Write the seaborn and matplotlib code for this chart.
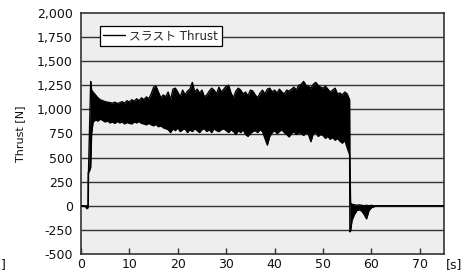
import numpy as np
import pandas as pd
import matplotlib
matplotlib.use("Agg")
import matplotlib.pyplot as plt
import seaborn as sns

# --- Thrust trace: time [s], upper / lower envelope [N] ---
time_s = [0.0, 1.0, 1.2, 1.45, 1.5, 1.55, 1.9, 2.0, 2.2,
          2.5, 3.0, 3.5, 4.0, 4.5, 5.0, 5.5, 6.0, 6.5, 7.0, 7.5, 8.0, 8.5, 9.0, 9.5,
          10.0, 10.5, 11.0, 11.5, 12.0, 12.5, 13.0, 13.5, 14.0, 14.5, 15.0, 15.5,
          16.0, 16.5, 17.0, 17.5, 18.0, 18.5, 19.0, 19.5, 20.0, 20.5, 21.0, 21.5,
          22.0, 22.5, 23.0, 23.5, 24.0, 24.5, 25.0, 25.5, 26.0, 26.5, 27.0, 27.5,
          28.0, 28.5, 29.0, 29.5, 30.0, 30.5, 31.0, 31.5, 32.0, 32.5, 33.0, 33.5,
          34.0, 34.5, 35.0, 35.5, 36.0, 36.5, 37.0, 37.5, 38.0, 38.5, 39.0, 39.5,
          40.0, 40.5, 41.0, 41.5, 42.0, 42.5, 43.0, 43.5, 44.0, 44.5, 45.0, 45.5,
          46.0, 46.5, 47.0, 47.5, 48.0, 48.5, 49.0, 49.5, 50.0, 50.5, 51.0, 51.5,
          52.0, 52.5, 53.0, 53.5, 54.0, 54.5, 55.0, 55.5,
          55.55, 55.7, 56.0, 56.5, 57.0, 57.5, 58.0, 58.5, 59.0, 59.5, 60.0, 60.5,
          61.0, 75.0]

thrust_upper = [0, 0, 0, 0, 350, 350, 1100, 1290, 1200,
                1180, 1150, 1120, 1100, 1090, 1080, 1075, 1070, 1065, 1075, 1060, 1070, 1080, 1065, 1090,
                1075, 1100, 1085, 1110, 1090, 1120, 1100, 1130, 1110, 1160, 1230, 1240,
                1180, 1120, 1150, 1130, 1180, 1100, 1210, 1220, 1180, 1130, 1200, 1150,
                1190, 1210, 1280, 1180, 1210, 1170, 1200, 1130, 1150, 1190, 1220, 1200,
                1160, 1230, 1180, 1210, 1240, 1250, 1170, 1120, 1190, 1220, 1200, 1160,
                1180, 1140, 1200, 1190, 1150, 1120, 1170, 1200, 1160, 1210, 1220, 1180,
                1200, 1170, 1210, 1180, 1160, 1200, 1190, 1210, 1230, 1200, 1250, 1260,
                1290, 1250, 1240, 1220, 1260, 1280, 1250, 1230, 1220, 1240, 1210, 1180,
                1200, 1220, 1160, 1170, 1150, 1180, 1160, 1100,
                530, 30, 15, 10, 5, 10, 5, 0, 5, 0, 5, 0,
                0, 0]

thrust_lower = [0, -10, -30, -20, 0, 340, 380, 400, 750,
                870, 890, 880, 900, 885, 870, 880, 860, 870, 855, 875, 860, 870, 850, 865,
                855, 850, 870, 860, 875, 855, 850, 840, 855, 840, 830, 845,
                820, 830, 810, 800, 790, 760, 800, 780, 810, 770, 790, 800,
                760, 790, 770, 800, 780, 760, 790, 800, 770, 790, 760, 800,
                780, 770, 790, 800, 780, 760, 790, 770, 740, 780, 760, 790,
                740, 720, 750, 770, 780, 760, 790, 770, 700, 630, 720, 760,
                780, 750, 770, 790, 760, 740, 715, 750, 770, 740, 760, 750,
                730, 760, 740, 665, 750, 760, 720, 740, 730, 700, 720, 690,
                710, 680, 700, 670, 650, 680, 600, 530,
                -270, -260, -150, -90, -50, -40, -55, -90, -135, -50, -20, -10,
                0, 0]

y_ticks = [-500, -250, 0, 250, 500, 750, 1000, 1250, 1500, 1750, 2000]
x_ticks = [0, 10, 20, 30, 40, 50, 60, 70]

df = pd.DataFrame({"t": time_s, "upper": thrust_upper, "lower": thrust_lower})

sns.set_style("ticks")
plt.rcParams["font.family"] = ["DejaVu Sans", "Noto Sans CJK JP"]

fig = plt.figure(figsize=(4.72, 2.76), dpi=100)
ax = fig.add_axes([81 / 472, 1 - 254 / 276, 363 / 472, 241 / 276])
ax.set_facecolor("#eeeeee")

# grid lines at every y tick
for v in y_ticks[1:-1]:
    ax.axhline(v, color="#333333", linewidth=1.0, zorder=1)

# band of the oscillating signal + its edges
ax.fill_between(df["t"], df["lower"], df["upper"], color="black", linewidth=0, zorder=2)
sns.lineplot(data=df, x="t", y="upper", ax=ax, color="black", linewidth=1.0,
             sort=False, estimator=None, label="スラスト Thrust", zorder=3)
sns.lineplot(data=df, x="t", y="lower", ax=ax, color="black", linewidth=1.0,
             sort=False, estimator=None, legend=False, zorder=3)

ax.set_xlim(0, 75)
ax.set_ylim(-500, 2000)
ax.set_xticks(x_ticks)
ax.set_yticks(y_ticks)
ax.set_yticklabels([f"{v:,}" for v in y_ticks])
ax.tick_params(axis="x", direction="in", length=4, width=1, color="#333333",
               labelsize=9, pad=3, labelcolor="#111111")
ax.tick_params(axis="y", length=0, labelsize=9, pad=6, labelcolor="#111111")
ax.set_xlabel("")
ax.set_ylabel("Thrust [N]", fontsize=8, color="#111111")
ax.yaxis.set_label_coords(-0.155, 0.5)
for s in ax.spines.values():
    s.set_color("#333333")
    s.set_linewidth(1.2)

leg = ax.legend(loc="upper left", bbox_to_anchor=(0.052, 0.946), borderaxespad=0,
                fontsize=8.5, frameon=True, fancybox=False, framealpha=1,
                edgecolor="black", handlelength=1.8, handletextpad=0.4,
                borderpad=0.3)
leg.get_frame().set_linewidth(0.9)
leg.set_zorder(5)

fig.text(446 / 472, 1 - 265 / 276, "[s]", fontsize=9, ha="left", va="center",
         color="#111111")
fig.text(1 / 472, 1 - 265 / 276, "]", fontsize=9, ha="left", va="center",
         color="#111111")

fig.savefig("out.png", dpi=100)
